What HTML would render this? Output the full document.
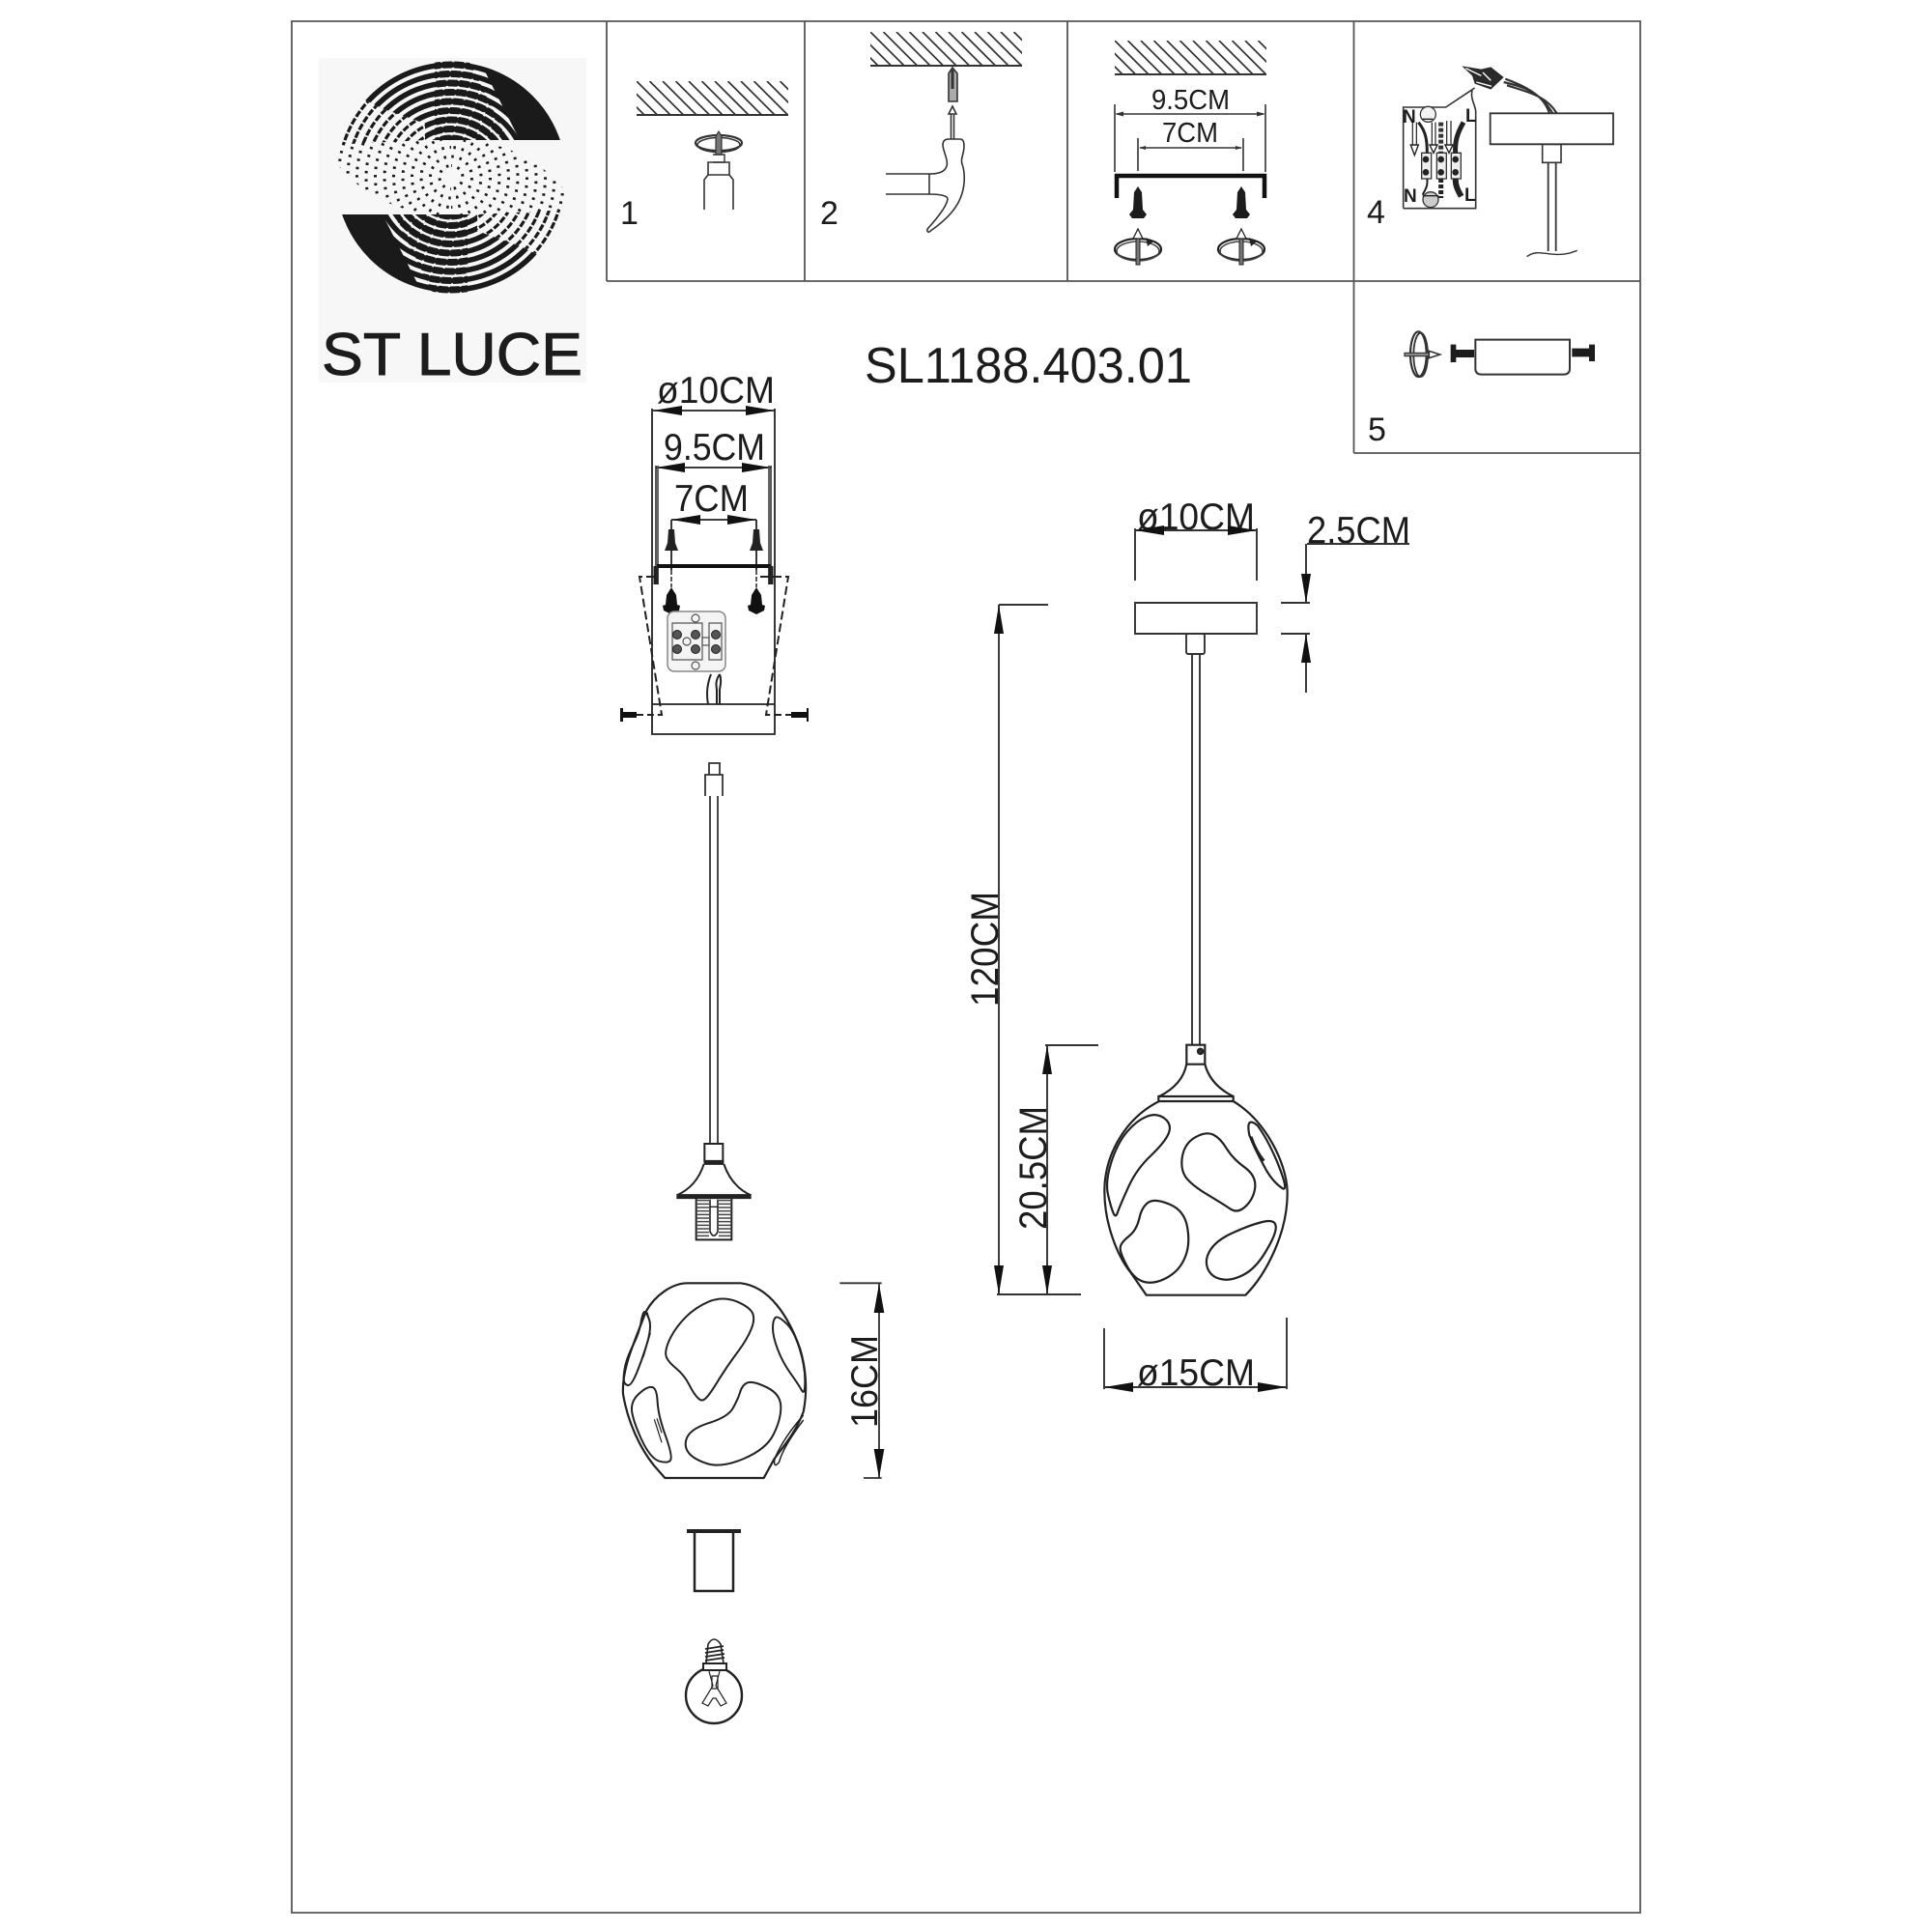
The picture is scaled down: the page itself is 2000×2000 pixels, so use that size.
<!DOCTYPE html>
<html>
<head>
<meta charset="utf-8">
<title>SL1188.403.01</title>
<style>
html,body{margin:0;padding:0;background:#fff}
svg{display:block}
svg path,svg line,svg rect,svg circle,svg ellipse,svg polyline{vector-effect:non-scaling-stroke}
text{font-family:"Liberation Sans","DejaVu Sans",sans-serif;fill:#1c1c1c}
</style>
</head>
<body>
<svg xmlns="http://www.w3.org/2000/svg" width="2000" height="2000" viewBox="0 0 2000 2000">
<defs>
<clipPath id="hc"><rect x="0" y="0" width="157" height="36"/></clipPath>
<g id="hatch"><g clip-path="url(#hc)"><path fill="none" stroke="#333" stroke-width="1.7" d="M-27 0l36 36M-13.5 0l36 36M0 0l36 36M13.5 0l36 36M27 0l36 36M40.5 0l36 36M54 0l36 36M67.5 0l36 36M81 0l36 36M94.5 0l36 36M108 0l36 36M121.5 0l36 36M135 0l36 36M148.5 0l36 36"/></g><path d="M0 35H157" stroke="#333" stroke-width="2"/></g>
<g id="screw"><path fill="#1c1c1c" d="M0 0L4 6L5 24L9 29L6 33L-6 33L-9 29L-5 24L-4 6Z"/></g>
<g id="rot"><ellipse cx="0" cy="0" rx="24" ry="11" fill="none" stroke="#222" stroke-width="2.2"/><ellipse cx="0" cy="2" rx="22" ry="10" fill="none" stroke="#444" stroke-width="1.6"/><path d="M8 -12L16 -8L10 -3Z" fill="#222"/><path d="M-2 -14H2V16H-2Z" fill="#777" stroke="#222" stroke-width="1"/><path d="M0 -21L5 -11H-5Z" fill="#fff" stroke="#222" stroke-width="1.3"/></g>
<g id="rings" fill="none">
<circle r="116.5"/><circle r="107"/><circle r="97.5"/><circle r="88"/><circle r="78.5"/><circle r="69"/><circle r="59.5"/><circle r="50"/><circle r="40.5"/><circle r="31"/><circle r="21.5"/><circle r="12"/>
</g>
<clipPath id="cSolid"><path d="M467 60H600V145H440L440 128L395 112L350 90L340 60Z"/></clipPath>
<clipPath id="cThin"><path d="M340 60L350 90L395 112L440 128L440 145L345 150V60Z"/></clipPath>
<clipPath id="cDots"><path d="M467 223C420 223 375 205 345 165V135L395 145H467Z"/></clipPath>
<clipPath id="cTrans"><path d="M484 60L526 145H450L450 60Z"/></clipPath>
<clipPath id="cWedge"><path d="M495 60L538 145H600V60Z"/></clipPath>
<g id="half">
<g clip-path="url(#cSolid)"><use href="#rings" transform="translate(467 183.5)" stroke="#1a1a1a" stroke-width="5.5"/></g>
<g clip-path="url(#cThin)"><use href="#rings" transform="translate(467 183.5)" stroke="#1a1a1a" stroke-width="3.2" stroke-dasharray="7 2"/></g>
<g clip-path="url(#cDots)"><use href="#rings" transform="translate(467 183.5)" stroke="#1a1a1a" stroke-width="3" stroke-dasharray="2.5 6"/></g>
<g clip-path="url(#cWedge)"><circle cx="467" cy="183.5" r="119" fill="#1a1a1a"/></g>
<g clip-path="url(#cTrans)"><use href="#rings" transform="translate(467 183.5)" stroke="#1a1a1a" stroke-width="7" stroke-dasharray="10 2"/></g>
</g>
</defs>

<!-- frame -->
<g fill="none" stroke="#555" stroke-width="1.8">
<rect x="302" y="22" width="1396" height="1958"/>
<path d="M628 22V291M833 22V291M1105 22V291M1401.5 22V469M628 291H1698M1401.5 469H1698"/>
</g>

<!-- logo -->
<rect x="330" y="60" width="277" height="336" fill="#f7f7f7"/>
<use href="#half"/>
<use href="#half" transform="rotate(180 467 183.5)"/>
<text x="333" y="388" font-size="62" textLength="270" lengthAdjust="spacingAndGlyphs" stroke="#1c1c1c" stroke-width="0.9">ST LUCE</text>

<text x="895" y="396" font-size="52" textLength="339" lengthAdjust="spacingAndGlyphs">SL1188.403.01</text>

<!-- cell numbers -->
<text x="642" y="232" font-size="34">1</text>
<text x="849" y="232" font-size="34">2</text>
<text x="1415" y="231" font-size="34">4</text>
<text x="1416" y="456" font-size="34">5</text>

<!-- cell 1 -->
<use href="#hatch" x="659" y="84"/>
<g fill="none" stroke="#333">
<ellipse cx="744" cy="148" rx="24" ry="8" stroke-width="2.2"/>
<ellipse cx="744" cy="150" rx="22" ry="7.5" stroke-width="1.6"/>
<path d="M741 160V141L744 136L747 141V160Z" fill="#777" stroke-width="1.2"/>
<path d="M738 160H750V168H738" stroke-width="1.4"/>
<rect x="733" y="168" width="22" height="13" stroke-width="1.6"/>
<path d="M729 217V186L733 181M759 217V186L755 181" stroke-width="1.6"/>
</g>

<!-- cell 2 -->
<use href="#hatch" x="901" y="33"/>
<g fill="none" stroke="#333" stroke-width="1.6">
<path d="M982 105V76L986 70L991 76V105Z" fill="#aaa"/>
<path d="M986 72V92" stroke-width="3"/>
<path d="M986 110L990 118H982Z" fill="#fff"/>
<path d="M984.5 118V144M987.5 118V144"/>
<path d="M917 180H962V201H917M962 180C972 180 978 178 980 172C982 166 976 156 976 150C976 146 978 144 982 144H994C997 144 998 147 998 151C998 160 994 164 996 170C999 178 999 190 996 200C992 214 982 226 962 240C960 241 959 238 961 236C970 226 980 214 981 206C981 203 975 201 962 201"/>
</g>

<!-- cell 3 -->
<use href="#hatch" x="1154" y="42"/>
<g fill="none" stroke="#333" stroke-width="1.6">
<path d="M1154 108V178M1310 108V178M1178 143V177M1287 143V177M1156 118H1308M1180 153H1285"/>
</g>
<path d="M1154 118L1163 115.5V120.5ZM1310 118L1301 115.5V120.5ZM1179 153L1186 151V155ZM1286 153L1279 151V155Z" fill="#333"/>
<text x="1192" y="113" font-size="29" textLength="81" lengthAdjust="spacingAndGlyphs">9.5CM</text>
<text x="1203" y="147" font-size="29" textLength="58" lengthAdjust="spacingAndGlyphs">7CM</text>
<path d="M1156 205V182H1309V205" fill="none" stroke="#111" stroke-width="4.5"/>
<use href="#screw" x="1178" y="193"/>
<use href="#screw" x="1285" y="193"/>
<use href="#rot" x="1178" y="258"/>
<use href="#rot" x="1285" y="258"/>

<!-- cell 4 -->
<g transform="translate(1400 10) scale(0.33333)">
<g fill="none" stroke="#333" stroke-width="1.6">
<path d="M158 617V303H290L380 243M372 250C365 280 385 300 383 320V617H158"/>
<rect x="428" y="322" width="382" height="96" stroke-width="1.8"/>
<path d="M590 418V475H648V418Z"/>
<path d="M608 475V750M632 475V750" stroke-width="1.8"/>
<path d="M542 767C570 745 600 760 630 760C660 762 680 755 698 748" stroke-width="1.4"/>
<path d="M470 225C530 240 590 255 612 322M480 235C540 255 600 265 635 322M475 215C530 235 585 260 622 322" stroke-width="2.2"/>
</g>
<path d="M340 175L400 185L430 178L470 210L430 248L380 230L372 205Z" fill="#2a2a2a"/>
<path d="M352 182L400 205M385 225L432 238M405 195L430 220" stroke="#fff" stroke-width="1.4" fill="none"/>
<g fill="#eee" stroke="#333" stroke-width="1.3">
<circle cx="235" cy="325" r="24" fill="#f4f4f4"/>
<circle cx="243" cy="590" r="24" fill="#ccc"/>
<rect x="215" y="445" width="30" height="80"/><rect x="262" y="445" width="30" height="80"/><rect x="307" y="445" width="30" height="80"/>
</g>
<g fill="#222">
<circle cx="228" cy="465" r="10"/><circle cx="275" cy="465" r="10"/><circle cx="320" cy="465" r="10"/>
<circle cx="228" cy="505" r="10"/><circle cx="275" cy="505" r="10"/><circle cx="320" cy="505" r="10"/>
<path d="M193 452L181 420H205Z" fill="#fff" stroke="#222" stroke-width="1.4"/>
<path d="M252 445L240 420H264Z" fill="#fff" stroke="#222" stroke-width="1.4"/>
<path d="M300 445L288 420H312Z" fill="#fff" stroke="#222" stroke-width="1.4"/>
</g>
<g fill="none" stroke="#222">
<path d="M187 350V420M199 350V420M247 350V420M258 350V420M293 345V420M306 345V420" stroke-width="1.2"/>
<path d="M275 350V445" stroke="#333" stroke-width="5" stroke-dasharray="4 2"/>
<path d="M205 350C230 380 232 410 232 445" stroke-width="3"/>
<path d="M345 350C325 385 318 410 320 445" stroke-width="5"/>
<path d="M320 525C320 550 330 565 338 580" stroke-width="6"/>
<path d="M232 525C235 550 225 560 218 575" stroke-width="2"/>
<path d="M275 525V585" stroke-width="5" stroke-dasharray="4 2"/>
<path d="M218 340H250M218 578H268" stroke-width="1.4"/>
</g>
</g>
<g font-weight="bold" font-size="19">
<text x="1452" y="127">N</text><text x="1517" y="126">L</text><text x="1453" y="209">N</text><text x="1516" y="208">L</text>
</g>

<!-- cell 5 -->
<g transform="translate(1400 10) scale(0.33333)">
<g fill="none" stroke="#333">
<ellipse cx="205" cy="1070" rx="25" ry="70" stroke-width="2.2"/>
<ellipse cx="212" cy="1072" rx="22" ry="68" stroke-width="1.8"/>
<path d="M162 1066H240V1076H162Z" fill="#888" stroke-width="1.2"/>
<path d="M272 1071L238 1060V1082Z" fill="#fff" stroke-width="1.6"/>
<path d="M382 1025H675V1115Q675 1133 655 1133H402Q382 1133 382 1115Z" stroke-width="2"/>
</g>
<path d="M305 1040H322V1056H378V1080H322V1095H305ZM682 1052H735V1040H753V1092H735V1078H682Z" fill="#1c1c1c"/>
</g>

<!-- left top assembly -->
<text x="680" y="417" font-size="39" textLength="122" lengthAdjust="spacingAndGlyphs">ø10CM</text>
<text x="687" y="476" font-size="39" textLength="105" lengthAdjust="spacingAndGlyphs">9.5CM</text>
<text x="698" y="529" font-size="39" textLength="77" lengthAdjust="spacingAndGlyphs">7CM</text>
<g fill="none" stroke="#222" stroke-width="1.8">
<path d="M675 423V760H802V423M675 729H802M676 425H802M679 484H798M695 538H783M695 538V590M783 538V590"/>
<path d="M679 482V605M798 482V605" stroke-width="1.5"/>
</g>
<path d="M681 482V605M796 482V605" stroke="#666" stroke-width="2"/>
<path d="M680 586H798" stroke="#111" stroke-width="4"/>
<path d="M679 586V605M798 586V605" stroke="#222" stroke-width="5"/>
<path d="M676 425L706 420V430ZM802 425L772 420V430ZM679 484L709 479V489ZM798 484L768 479V489ZM695 538L725 533V543ZM783 538L753 533V543Z" fill="#111"/>
<path d="M692 548H698L699 562L702 570H688L691 562ZM780 548H786L787 562L790 570H776L779 562Z" fill="#222"/>
<path d="M695 590V608M783 590V608" stroke="#222" stroke-width="1.5" stroke-dasharray="5 2"/>
<path d="M695 608L700 616L701 626L704 627L703 632L695 636L687 632L686 627L689 626L690 616ZM783 608L788 616L789 626L792 627L791 632L783 636L775 632L774 627L777 626L778 616Z" fill="#111"/>
<g fill="none" stroke="#222" stroke-width="2" stroke-dasharray="9 4">
<path d="M678 597H662L685 740H675M787 597H816L793 740H802"/>
<path d="M659 740H675M802 740H819" stroke-dasharray="7 4"/>
</g>
<path d="M642 733H645V737H659V743H645V747H642ZM819 737H835V733H837V747H835V743H819Z" fill="#111"/>
<rect x="691" y="633" width="60" height="62" rx="7" fill="#f4f4f4" stroke="#888" stroke-width="1.5"/>
<g fill="none" stroke="#555" stroke-width="1.2">
<rect x="696" y="645" width="31" height="38"/><rect x="734" y="645" width="13" height="38"/>
<circle cx="720" cy="640" r="4"/><circle cx="720" cy="689" r="4"/><circle cx="711" cy="664" r="4"/><rect x="727" y="660" width="7" height="8"/>
</g>
<g fill="#555" stroke="#222" stroke-width="1">
<circle cx="701" cy="657" r="4.5"/><circle cx="720" cy="657" r="4.5"/><circle cx="741" cy="657" r="4.5"/>
<circle cx="701" cy="672" r="4.5"/><circle cx="720" cy="672" r="4.5"/><circle cx="741" cy="672" r="4.5"/>
</g>
<path d="M736 698C732 708 731 718 733 729M745 698C741 704 741 708 742 714V729M745 698C747 704 746 708 745 714V729" fill="none" stroke="#222" stroke-width="2"/>

<!-- left cord -->
<g fill="none" stroke="#333" stroke-width="1.8">
<path d="M734 802V790H745V802M730 824V802H748V824M735 824V1184M743 824V1184"/>
</g>

<!-- lampholder + glass left -->
<g transform="translate(620 1150) scale(0.33333)" fill="none" stroke="#222" stroke-width="2">
<rect x="328" y="102" width="57" height="55"/>
<path d="M326 160H388" stroke-width="5"/>
<path d="M326 165C310 215 280 245 242 262M388 165C405 215 435 245 472 262"/>
<path d="M241 266H473" stroke-width="5"/>
<rect x="302" y="270" width="110" height="130"/>
<path d="M302 278H342M372 278H412M302 289H342M372 289H412M302 300H342M372 300H412M302 311H342M372 311H412M302 322H342M372 322H412M302 333H342M372 333H412M302 344H342M372 344H412M302 355H342M372 355H412M302 366H342M372 366H412M302 377H342M372 377H412M302 388H342M372 388H412" stroke="#444" stroke-width="1.5"/>
<path d="M345 275V375Q357 400 369 375V275" stroke-width="1.6"/>
<path d="M345 298H369" stroke-width="1.4"/>

<path d="M275 535L440 535C530 545 590 640 625 740C640 790 650 860 635 935C610 1000 575 1040 545 1080L512 1140L205 1140L170 1100C130 1050 90 970 75 880C70 800 110 720 145 625C175 570 230 535 275 535Z" stroke-width="2.2"/>
<path d="M428 592Q470 610 478 630Q485 650 472 680Q460 710 430 750Q400 790 372 835Q345 880 332 892Q320 905 308 892Q295 880 280 850Q265 820 238 798Q210 775 208 758Q205 740 222 705Q240 670 270 640Q300 610 342 592Q385 575 428 592Z"/>
<path d="M522 859Q565 880 565 920Q565 960 542 1005Q520 1050 450 1080Q380 1110 335 1095Q290 1080 276 1058Q262 1035 276 1010Q290 985 345 968Q400 950 415 925Q430 900 438 875Q445 850 462 844Q480 838 522 859Z"/>
<path d="M165 858Q180 860 182 905Q185 950 208 1012Q230 1075 222 1085Q215 1095 188 1088Q160 1080 132 1020Q105 960 102 930Q100 900 125 878Q150 855 165 858Z"/>
<path d="M172 958L195 1030M180 955L195 1000" stroke-width="1.2"/>
<path d="M155 645Q165 670 150 720Q135 770 118 812Q100 855 90 852Q80 850 78 840Q75 830 80 800Q85 770 105 730Q125 690 130 660Q135 630 140 625Q145 620 155 645Z"/>
<path d="M160 690L138 765M150 625L160 660" stroke-width="1.2"/>
<path d="M580 658Q605 680 622 735Q640 790 640 838Q640 885 630 868Q620 850 595 815Q570 780 555 740Q540 700 540 675Q540 650 548 642Q555 635 580 658Z"/>
<path d="M635 945C600 985 570 1025 548 1075C540 1100 548 1108 560 1090C570 1050 605 1000 635 960" stroke-width="1.5"/>
<path d="M748 535H878M822 1140H878M870 537V1140" stroke="#333" stroke-width="1.8"/>
<path d="M870 537L886 627H854ZM870 1140L886 1050H854Z" fill="#111" stroke="none"/>
</g>
<text transform="translate(908 1478) rotate(-90)" font-size="39" textLength="96" lengthAdjust="spacingAndGlyphs">16CM</text>

<!-- ferrule + bulb -->
<g fill="none" stroke="#222">
<path d="M711 1585H767" stroke-width="4"/>
<path d="M719 1585V1647H759V1585" stroke-width="2.5"/>
<circle cx="739" cy="1755" r="29" stroke-width="2.4"/>
<rect x="728" y="1722" width="24" height="7" fill="#fff" stroke-width="2"/>
<path d="M731 1722L733 1702Q739 1692 746 1702L749 1722" stroke-width="1.6"/>
<path d="M730 1707L749 1704M730 1711L749 1708M730 1715L750 1712M730 1719L750 1716" stroke-width="1.8"/>
<path d="M734 1730L738 1745L727 1763L733 1766L738 1758H741L746 1766L752 1763L741 1745L745 1730" stroke-width="1.2"/>
<path d="M737 1735H743V1748H737Z" stroke-width="1.2"/>
</g>

<!-- right assembly -->
<text x="1177" y="548" font-size="39" textLength="122" lengthAdjust="spacingAndGlyphs">ø10CM</text>
<text x="1353" y="562" font-size="39" textLength="107" lengthAdjust="spacingAndGlyphs">2.5CM</text>
<text x="1177" y="1434" font-size="39" textLength="122" lengthAdjust="spacingAndGlyphs">ø15CM</text>
<text transform="translate(1033 1042) rotate(-90)" font-size="40" textLength="119" lengthAdjust="spacingAndGlyphs">120CM</text>
<text transform="translate(1083 1273) rotate(-90)" font-size="40" textLength="128" lengthAdjust="spacingAndGlyphs">20.5CM</text>
<g fill="none" stroke="#333" stroke-width="1.9">
<path d="M1175 547V601M1301 547V601M1175 549H1301"/>
<rect x="1175" y="624" width="126" height="32"/>
<rect x="1228" y="656" width="19" height="21" rx="2"/>
<path d="M1234 677V1082M1242 677V1082"/>
<path d="M1353 563H1459M1352 563V624M1326 624H1356M1326 656H1356M1352 656V717"/>
<path d="M1034 626V1340M1034 626H1085M1032 1340H1119M1084 1082V1340M1082 1082H1137"/>
<path d="M1143 1375V1438M1332 1364V1438M1143 1436H1332"/>
</g>
<path d="M1175 549L1205 544V554ZM1301 549L1271 544V554ZM1352 624L1347 594H1357ZM1352 656L1347 686H1357ZM1034 626L1029 656H1039ZM1034 1340L1029 1310H1039ZM1084 1082L1079 1112H1089ZM1084 1340L1079 1310H1089ZM1143 1436L1173 1431V1441ZM1332 1436L1302 1431V1441Z" fill="#111"/>

<g transform="translate(1000 1060) scale(0.33333)" fill="none" stroke="#222" stroke-width="2.2">
<rect x="685" y="65" width="57" height="60"/>
<circle cx="728" cy="85" r="8" fill="#333"/>
<path d="M685 125C675 175 640 205 600 225M742 125C755 175 790 205 830 225"/>
<path d="M598 225H830V240H598Z"/>
<path d="M600 240C500 290 430 400 430 520C430 620 470 720 510 770L560 842L868 842C930 780 1000 650 998 520C995 430 930 300 830 240"/>
<path d="M615 292Q640 310 630 338Q620 365 575 408Q530 450 505 505Q480 560 472 582Q465 605 458 588Q450 570 441 530Q432 490 451 430Q470 370 500 335Q530 300 560 288Q590 275 615 292Z"/>
<path d="M768 344Q790 355 810 388Q830 420 865 445Q900 470 898 505Q895 540 870 565Q845 590 822 575Q800 560 750 530Q700 500 682 475Q665 450 672 410Q680 370 712 352Q745 333 768 344Z"/>
<path d="M632 560Q680 580 688 635Q697 690 678 730Q660 770 620 790Q580 810 550 800Q520 790 499 750Q478 710 479 695Q480 680 505 660Q530 640 538 605Q545 570 565 555Q585 540 632 560Z"/>
<path d="M962 628Q965 650 932 705Q900 760 860 780Q820 800 790 792Q760 785 750 758Q740 730 760 700Q780 670 830 648Q880 625 920 615Q960 605 962 628Z"/>
<path d="M905 315Q935 355 965 425Q1002 515 985 512Q950 490 925 440Q895 385 880 345Q868 285 905 315Z"/>
<path d="M885 350Q900 395 925 425" stroke-width="3"/>
</g>
</svg>
</body>
</html>
